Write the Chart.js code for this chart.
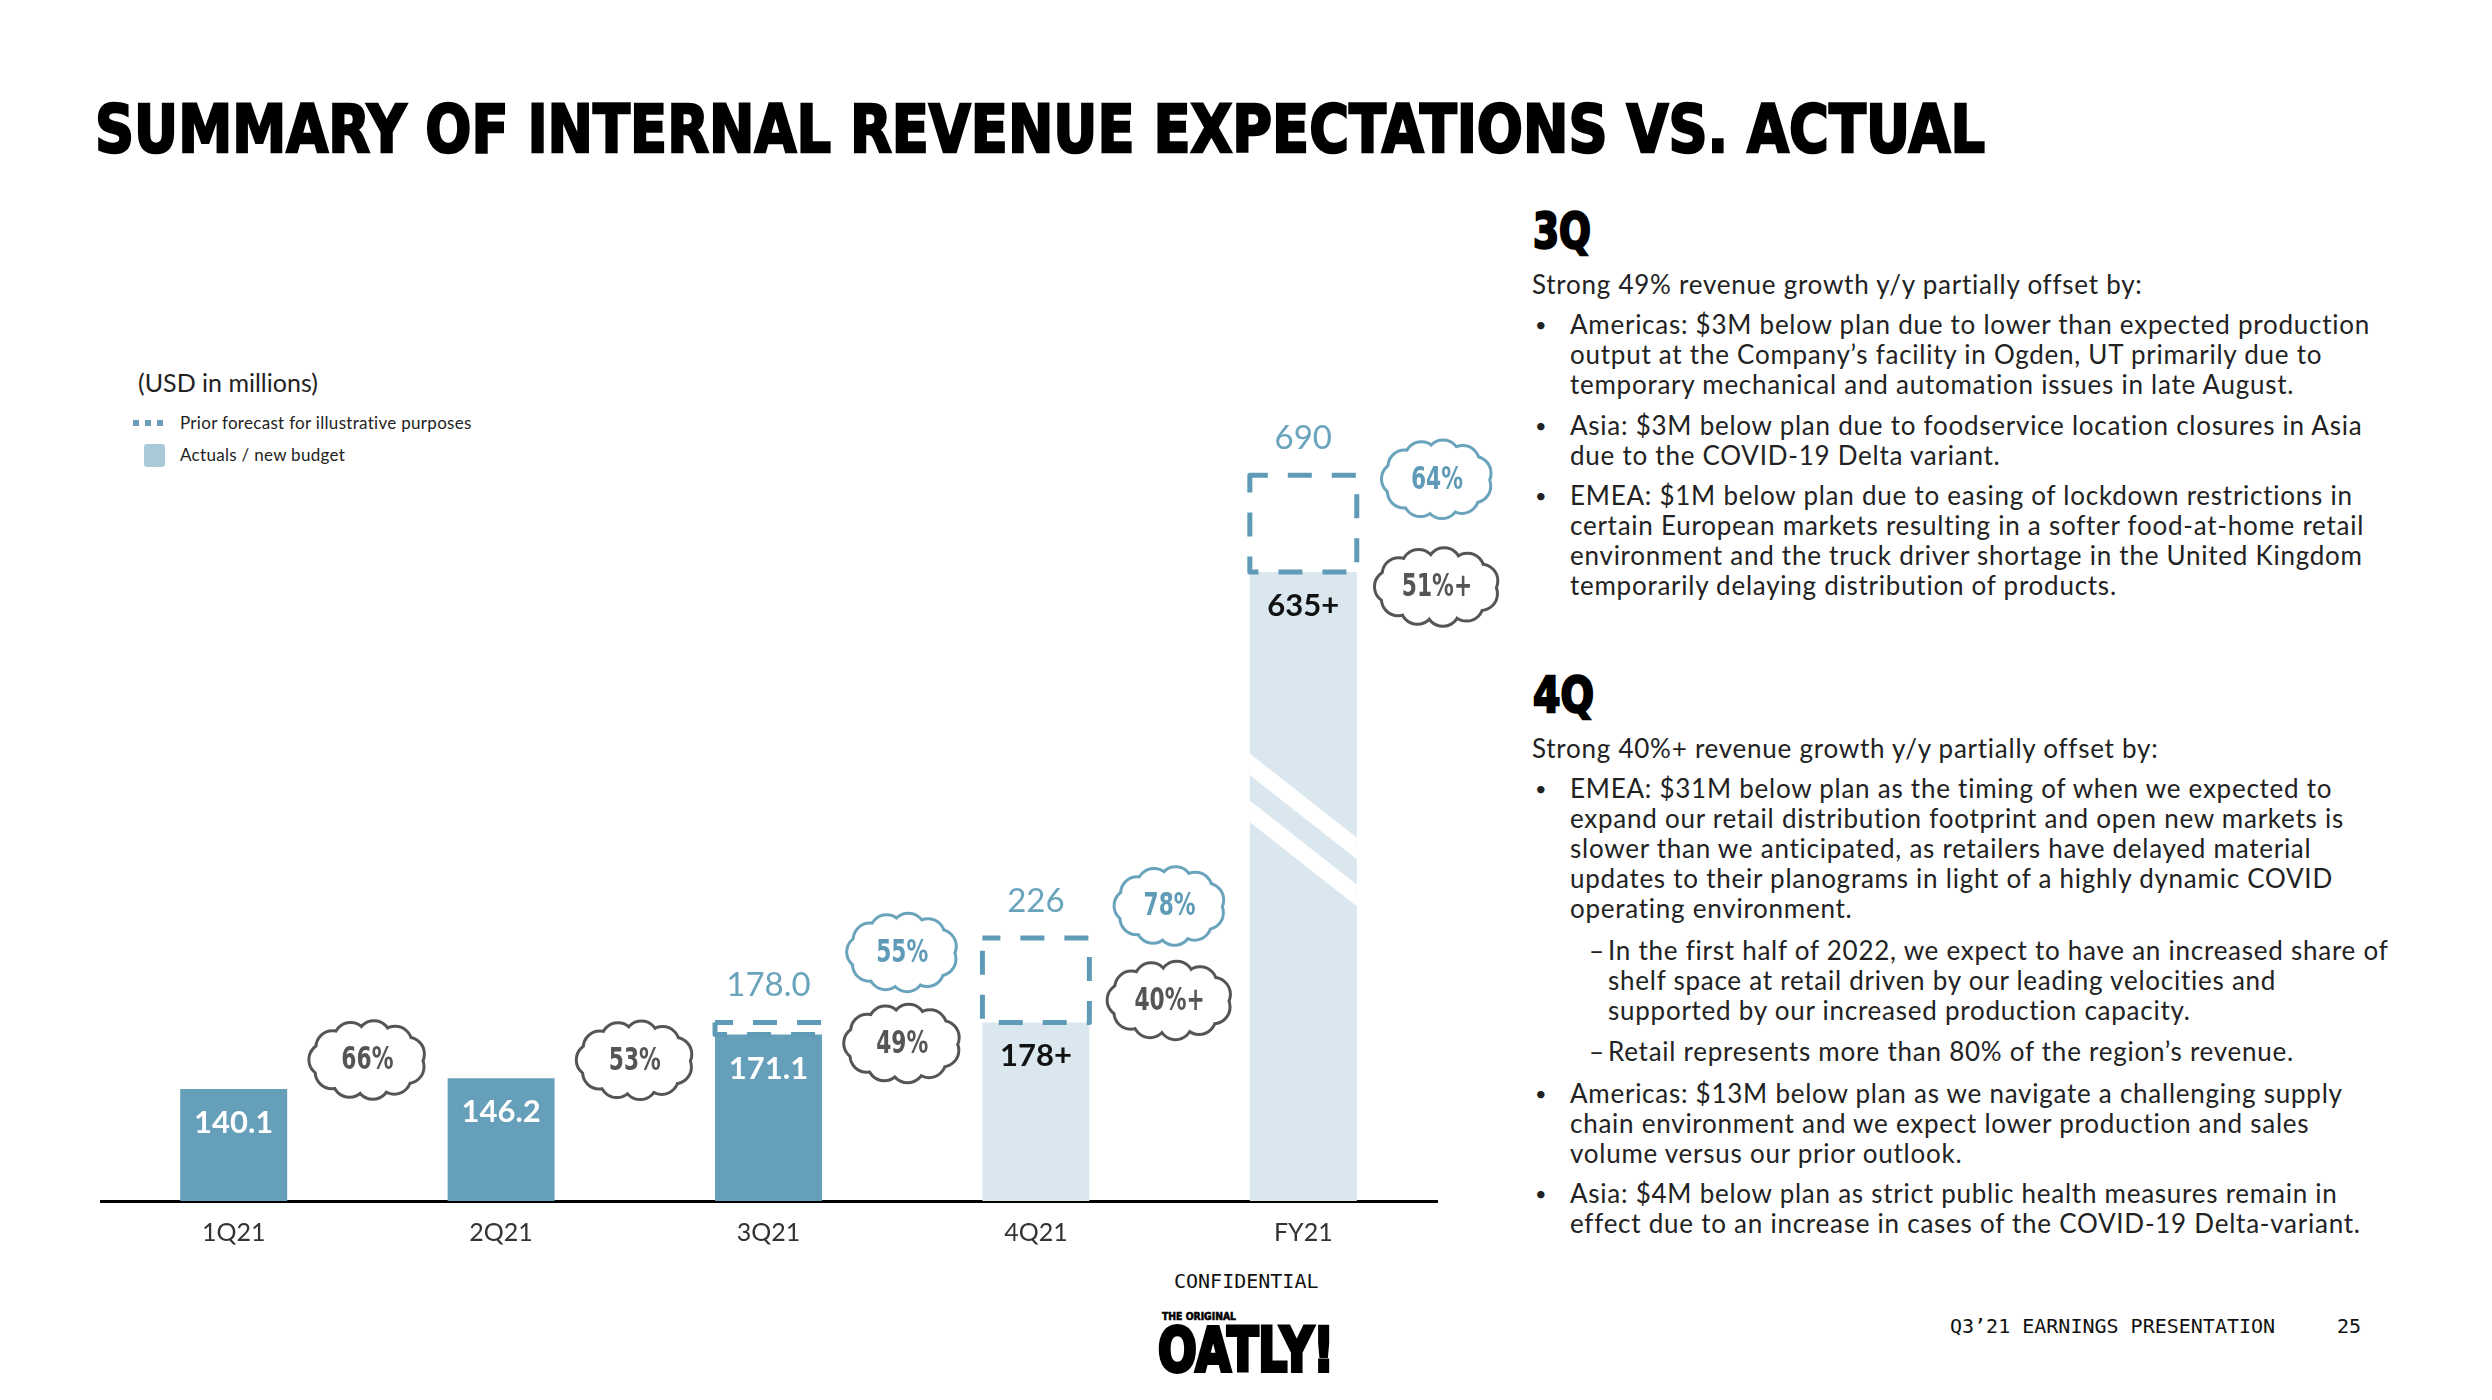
<!DOCTYPE html>
<html>
<head>
<meta charset="utf-8">
<script src="https://cdn.jsdelivr.net/npm/chart.js@4.4.1/dist/chart.umd.min.js"></script>
<style>
  html, body { margin: 0; padding: 0; background: #fff; }
  #page { position: relative; width: 2492px; height: 1400px; overflow: hidden; font-family: Lato, sans-serif; color: #222; }
  .abs { position: absolute; white-space: nowrap; }
  .fit { display: inline-block; transform-origin: 0 0; }
  .heavy { font-family: 'DejaVu Sans'; font-weight: bold; color: #000; -webkit-text-stroke: 2.5px #000; }
  .txt { font-size: 26px; line-height: 30px; letter-spacing: 0.75px; }
  .dot { font-size: 20px; line-height: 30px; }
  .mono { font-family: 'DejaVu Sans Mono'; font-size: 20px; line-height: 20px; color: #111; }
  #chart { position: absolute; left: 100px; top: 300px; }
</style>
</head>
<body>
<div id="page">
  <div class="abs heavy fit" data-w="1890" style="left:95px;top:97px;font-size:66px;line-height:66px;">SUMMARY OF INTERNAL REVENUE EXPECTATIONS VS. ACTUAL</div>

  <div class="abs" style="left:138px;top:366px;font-size:25px;line-height:32px;">(USD in millions)</div>
  <div class="abs" style="left:133px;top:420px;width:6px;height:6px;background:#6b9fb8"></div>
  <div class="abs" style="left:145px;top:420px;width:6px;height:6px;background:#6b9fb8"></div>
  <div class="abs" style="left:157px;top:420px;width:6px;height:6px;background:#6b9fb8"></div>
  <div class="abs" style="left:180px;top:413px;font-size:17px;line-height:20px;letter-spacing:0.3px;">Prior forecast for illustrative purposes</div>
  <div class="abs" style="left:144px;top:444px;width:21px;height:23px;border-radius:3px;background:#a8c9d8"></div>
  <div class="abs" style="left:180px;top:445px;font-size:17px;line-height:20px;letter-spacing:0.3px;">Actuals / new budget</div>

  <canvas id="chart" width="1420" height="961"></canvas>

  <!-- right column -->
  <div class="abs heavy fit" data-w="58" style="left:1533px;top:207px;font-size:49px;line-height:49px;">3Q</div>
  <div class="abs txt" style="left:1532px;top:269px;">Strong 49% revenue growth y/y partially offset by:</div>
  <div class="abs dot" style="left:1535px;top:309px;">•</div>
  <div class="abs txt" style="left:1570px;top:309px;">Americas: $3M below plan due to lower than expected production<br>output at the Company’s facility in Ogden, UT primarily due to<br>temporary mechanical and automation issues in late August.</div>
  <div class="abs dot" style="left:1535px;top:410px;">•</div>
  <div class="abs txt" style="left:1570px;top:410px;">Asia: $3M below plan due to foodservice location closures in Asia<br>due to the COVID-19 Delta variant.</div>
  <div class="abs dot" style="left:1535px;top:480px;">•</div>
  <div class="abs txt" style="left:1570px;top:480px;">EMEA: $1M below plan due to easing of lockdown restrictions in<br>certain European markets resulting in a softer food-at-home retail<br>environment and the truck driver shortage in the United Kingdom<br>temporarily delaying distribution of products.</div>

  <div class="abs heavy fit" data-w="61" style="left:1533px;top:670px;font-size:50px;line-height:50px;">4Q</div>
  <div class="abs txt" style="left:1532px;top:733px;">Strong 40%+ revenue growth y/y partially offset by:</div>
  <div class="abs dot" style="left:1535px;top:773px;">•</div>
  <div class="abs txt" style="left:1570px;top:773px;">EMEA: $31M below plan as the timing of when we expected to<br>expand our retail distribution footprint and open new markets is<br>slower than we anticipated, as retailers have delayed material<br>updates to their planograms in light of a highly dynamic COVID<br>operating environment.</div>
  <div class="abs txt" style="left:1589px;top:935px;">–</div>
  <div class="abs txt" style="left:1608px;top:935px;">In the first half of 2022, we expect to have an increased share of<br>shelf space at retail driven by our leading velocities and<br>supported by our increased production capacity.</div>
  <div class="abs txt" style="left:1589px;top:1036px;">–</div>
  <div class="abs txt" style="left:1608px;top:1036px;">Retail represents more than 80% of the region’s revenue.</div>
  <div class="abs dot" style="left:1535px;top:1078px;">•</div>
  <div class="abs txt" style="left:1570px;top:1078px;">Americas: $13M below plan as we navigate a challenging supply<br>chain environment and we expect lower production and sales<br>volume versus our prior outlook.</div>
  <div class="abs dot" style="left:1535px;top:1178px;">•</div>
  <div class="abs txt" style="left:1570px;top:1178px;">Asia: $4M below plan as strict public health measures remain in<br>effect due to an increase in cases of the COVID-19 Delta-variant.</div>

  <!-- footer -->
  <div class="abs mono" style="left:1174px;top:1271px;">CONFIDENTIAL</div>
  <div class="abs heavy fit" data-w="74" style="left:1162px;top:1312px;font-size:10px;line-height:10px;-webkit-text-stroke:0.6px #000;">THE ORIGINAL</div>
  <div class="abs heavy fit" data-w="176" style="left:1158px;top:1320px;font-size:60px;line-height:60px;-webkit-text-stroke:4px #000;">OATLY!</div>
  <div class="abs mono" style="left:1950px;top:1316px;">Q3’21 EARNINGS PRESENTATION</div>
  <div class="abs mono" style="left:2337px;top:1316px;">25</div>
</div>

<script>
// chart data
const categories = ['1Q21', '2Q21', '3Q21', '4Q21', 'FY21'];
const actuals = [140.1, 146.2, 171.1, 178, 635];
const priorForecast = [null, null, 178.0, 226, 690];
const actualLabels = ['140.1', '146.2', '171.1', '178+', '635+'];
const priorLabels = ['', '', '178.0', '226', '690'];
const actualGrowth = ['66%', '53%', '49%', '40%+', '51%+'];
const priorGrowth = ['', '', '55%', '78%', '64%'];
const isBudget = [false, false, false, true, true];

const DARK = '#669fba';
const LIGHT = '#dae7ee';
const DASH = '#5f9bb7';
const GREY = '#555555';

// stretch the heavy headline fonts to the slide widths
document.querySelectorAll('.fit').forEach(el => {
  const w = el.getBoundingClientRect().width;
  el.style.transform = 'scaleX(' + (Number(el.dataset.w) / w) + ')';
});

const FY = categories.length - 1;
const quarterOnly = arr => arr.map((v, i) => (i < FY ? v : null));
const fyOnly = arr => arr.map((v, i) => (i === FY ? v : null));
const priorRange = priorForecast.map((p, i) => (p == null ? null : [actuals[i], p]));

function barFor(chart, i, prior) {
  const di = (prior ? 2 : 0) + (i === FY ? 1 : 0);
  return chart.getDatasetMeta(di).data[i];
}

function drawCloud(ctx, cx, cy, w, h, color) {
  const r = h * 0.2;
  const rx = w / 2 - r, ry = h / 2 - r;
  const n = 11;
  const pts = [];
  for (let k = 0; k < n; k++) {
    const a = (k / n) * Math.PI * 2 + 0.3;
    pts.push([cx + rx * Math.cos(a), cy + ry * Math.sin(a)]);
  }
  ctx.save();
  ctx.strokeStyle = color;
  ctx.lineWidth = 6;
  pts.forEach(p => { ctx.beginPath(); ctx.arc(p[0], p[1], r, 0, Math.PI * 2); ctx.stroke(); });
  ctx.fillStyle = '#fff';
  ctx.beginPath(); ctx.ellipse(cx, cy, rx, ry, 0, 0, Math.PI * 2); ctx.fill();
  pts.forEach(p => { ctx.beginPath(); ctx.arc(p[0], p[1], r, 0, Math.PI * 2); ctx.fill(); });
  ctx.restore();
}

function cloudText(ctx, txt, cx, cy, color) {
  ctx.save();
  ctx.font = 'bold 32px "DejaVu Sans"';
  ctx.fillStyle = color;
  ctx.textAlign = 'center';
  ctx.textBaseline = 'middle';
  ctx.translate(cx, cy);
  ctx.scale(0.68, 1);
  ctx.fillText(txt, 0, 1);
  ctx.restore();
}

// slide decorations: dashed forecast boxes, axis break, labels, growth clouds
const cloudNudgeActual = [-29, -18, 9, -22, 15];
const cloudNudgePrior = [0, 0, -70, -32, 4];

const slideMarks = {
  id: 'slideMarks',
  afterDatasetsDraw(chart) {
    const ctx = chart.ctx;
    const xs = chart.scales.x;
    const bottom = chart.chartArea.bottom;

    // break on the full-year bar
    const fy = barFor(chart, FY, false);
    const left = fy.x - fy.width / 2, right = fy.x + fy.width / 2;
    const mid = bottom - (bottom - fy.y) * 0.59;
    ctx.save();
    ctx.beginPath(); ctx.rect(left, fy.y, fy.width, bottom - fy.y); ctx.clip();
    ctx.strokeStyle = '#fff';
    ctx.lineWidth = 17;
    [-23.5, 23.5].forEach(off => {
      const c = mid + off;
      ctx.beginPath();
      ctx.moveTo(left - 5, c - 0.785 * (fy.width / 2 + 5));
      ctx.lineTo(right + 5, c + 0.785 * (fy.width / 2 + 5));
      ctx.stroke();
    });
    ctx.restore();

    categories.forEach((c, i) => {
      if (priorForecast[i] == null) return;
      const b = barFor(chart, i, true);
      ctx.save();
      ctx.strokeStyle = DASH;
      ctx.lineWidth = 5;
      ctx.lineJoin = 'round';
      ctx.setLineDash([24, 20]);
      ctx.lineDashOffset = 6;
      ctx.strokeRect(b.x - b.width / 2, b.y, b.width, b.base - b.y);
      ctx.restore();

      ctx.save();
      ctx.font = '33px Lato';
      ctx.fillStyle = '#6aa3bc';
      ctx.textAlign = 'center';
      ctx.textBaseline = 'middle';
      ctx.fillText(priorLabels[i], b.x, b.y - 37);
      ctx.restore();
    });

    categories.forEach((c, i) => {
      const b = barFor(chart, i, false);
      ctx.save();
      ctx.font = 'bold 31px Lato';
      ctx.fillStyle = isBudget[i] ? '#111' : '#fff';
      ctx.textAlign = 'center';
      ctx.textBaseline = 'middle';
      ctx.fillText(actualLabels[i], b.x, b.y + 34);
      ctx.restore();

      const cx = xs.getPixelForValue(i + 0.5);
      const wide = actualGrowth[i].length > 3 ? 122 : 114;
      const cyA = b.y + cloudNudgeActual[i];
      drawCloud(ctx, cx, cyA, wide, 76, GREY);
      cloudText(ctx, actualGrowth[i], cx, cyA, GREY);

      if (priorGrowth[i]) {
        const p = barFor(chart, i, true);
        const cyP = p.y + cloudNudgePrior[i];
        drawCloud(ctx, cx, cyP, 108, 76, '#6aa3bc');
        cloudText(ctx, priorGrowth[i], cx, cyP, '#5f9bb7');
      }
    });
  }
};

const common = { grouped: false, categoryPercentage: 0.4, barPercentage: 1.0, borderWidth: 0 };

new Chart(document.getElementById('chart'), {
  type: 'bar',
  data: {
    labels: categories,
    datasets: [
      Object.assign({ label: 'Actuals / new budget', data: quarterOnly(actuals), yAxisID: 'y',
        backgroundColor: isBudget.map(b => (b ? LIGHT : DARK)) }, common),
      Object.assign({ label: 'Actuals / new budget FY', data: fyOnly(actuals), yAxisID: 'y2',
        backgroundColor: LIGHT }, common),
      Object.assign({ label: 'Prior forecast', data: quarterOnly(priorRange), yAxisID: 'y',
        backgroundColor: 'rgba(0,0,0,0)' }, common),
      Object.assign({ label: 'Prior forecast FY', data: fyOnly(priorRange), yAxisID: 'y2',
        backgroundColor: 'rgba(0,0,0,0)' }, common)
    ]
  },
  options: {
    responsive: false,
    animation: false,
    devicePixelRatio: 1,
    layout: { padding: { left: 0, right: 83, top: 0, bottom: 0 } },
    plugins: { legend: { display: false }, tooltip: { enabled: false } },
    scales: {
      x: {
        grid: { display: false, drawTicks: false },
        border: { display: true, color: '#000', width: 3 },
        ticks: { font: { family: 'Lato', size: 25 }, color: '#333', padding: 17 },
        afterFit: s => { s.height = 60; }
      },
      // quarters and full year share the same px per $M; the full year axis starts higher (broken bar)
      y: { display: false, min: 76.4, max: 588.9 },
      y2: { display: false, min: 277.2, max: 789.7 }
    }
  },
  plugins: [slideMarks]
});
</script>
</body>
</html>
